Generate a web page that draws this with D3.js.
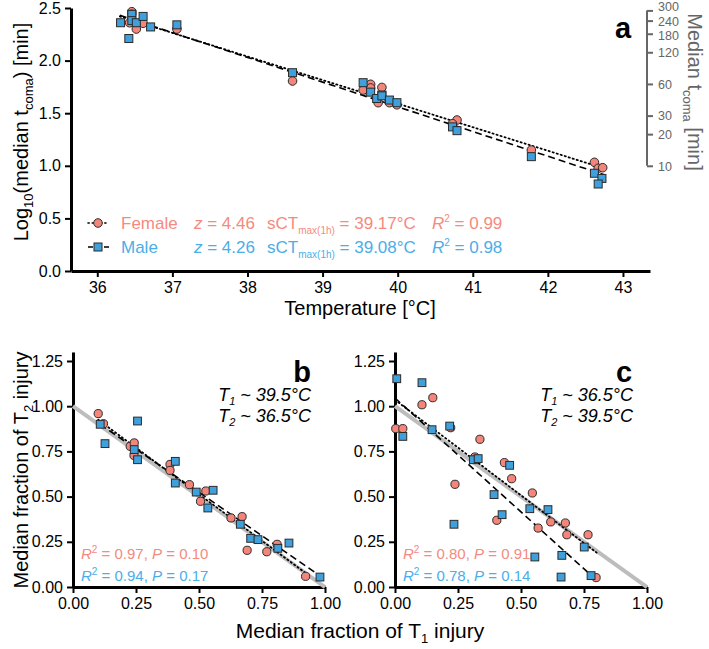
<!DOCTYPE html>
<html><head><meta charset="utf-8">
<script src="https://cdn.jsdelivr.net/npm/d3@7"></script>
<style>
body{margin:0;background:#fff}
svg text{font-family:"Liberation Sans",Arial,Helvetica,sans-serif}
</style>
</head><body>
<svg id="chart" width="709" height="649"></svg>
<script>
// ---------------- data: panel a ----------------
const aFemaleTemp = [36.46, 36.46, 36.43, 36.52, 36.61, 37.06, 38.60, 39.54, 39.64, 39.64, 39.79, 39.74, 39.89, 39.99, 40.79, 40.73, 41.78, 42.62, 42.67, 42.73];
const aFemaleLog  = [2.465, 2.44, 2.36, 2.30, 2.355, 2.30, 1.806, 1.72, 1.775, 1.74, 1.745, 1.60, 1.60, 1.58, 1.435, 1.40, 1.15, 1.033, 0.976, 0.982];
const aMaleTemp = [36.31, 36.46, 36.46, 36.42, 36.52, 36.61, 36.71, 37.06, 38.60, 39.54, 39.64, 39.79, 39.72, 39.79, 39.89, 39.99, 40.73, 40.79, 41.78, 42.62, 42.72, 42.67];
const aMaleLog  = [2.36, 2.44, 2.38, 2.21, 2.36, 2.42, 2.32, 2.34, 1.885, 1.79, 1.70, 1.673, 1.64, 1.665, 1.625, 1.60, 1.37, 1.334, 1.087, 0.929, 0.88, 0.827];
const aFemaleFitT = [36.30, 42.75];
const aFemaleFitY = [2.42, 0.975];
const aMaleFitT = [36.30, 42.75];
const aMaleFitY = [2.43, 0.915];
const aXTicks = [36, 37, 38, 39, 40, 41, 42, 43];
const aYTicks = [0, 0.5, 1.0, 1.5, 2.0, 2.5];
const aRightTicks = [10, 20, 30, 60, 120, 180, 240, 300];
const legendLabels = ["Female", "Male"];
const legendZ = ["4.46", "4.26"];
const legendSCT = ["39.17", "39.08"];
const legendR2 = ["0.99", "0.98"];

// ---------------- data: panel b ----------------
const bFemaleX = [0.100, 0.121, 0.227, 0.243, 0.242, 0.385, 0.385, 0.462, 0.527, 0.506, 0.627, 0.671, 0.691, 0.769, 0.810, 0.923];
const bFemaleY = [0.959, 0.903, 0.778, 0.797, 0.728, 0.678, 0.645, 0.566, 0.531, 0.474, 0.382, 0.389, 0.203, 0.195, 0.236, 0.059];
const bMaleX = [0.108, 0.127, 0.256, 0.243, 0.256, 0.406, 0.406, 0.489, 0.556, 0.535, 0.664, 0.705, 0.734, 0.813, 0.857, 0.980];
const bMaleY = [0.900, 0.793, 0.918, 0.760, 0.704, 0.695, 0.575, 0.525, 0.535, 0.437, 0.347, 0.269, 0.262, 0.214, 0.243, 0.055];
const bFemaleFitX = [0.100, 0.923], bFemaleFitY = [0.925, 0.077];
const bMaleFitX = [0.108, 0.980], bMaleFitY = [0.900, 0.062];
const bStats = ["0.97", "0.10", "0.94", "0.17"];
const bTemps = ["39.5", "36.5"];

// ---------------- data: panel c ----------------
const cFemaleX = [0.003, 0.031, 0.107, 0.150, 0.221, 0.238, 0.317, 0.337, 0.434, 0.463, 0.404, 0.545, 0.568, 0.618, 0.676, 0.682, 0.766, 0.798];
const cFemaleY = [0.876, 0.876, 1.008, 1.047, 0.881, 0.568, 0.719, 0.817, 0.688, 0.599, 0.369, 0.520, 0.326, 0.360, 0.354, 0.289, 0.289, 0.052];
const cMaleX = [0.007, 0.031, 0.107, 0.147, 0.217, 0.234, 0.311, 0.330, 0.393, 0.425, 0.455, 0.535, 0.555, 0.607, 0.662, 0.659, 0.751, 0.778];
const cMaleY = [1.152, 0.833, 1.130, 0.870, 0.890, 0.347, 0.704, 0.710, 0.511, 0.400, 0.673, 0.433, 0.166, 0.428, 0.175, 0.055, 0.221, 0.063];
const cFemaleFitX = [0.000, 0.800], cFemaleFitY = [1.035, 0.190];
const cMaleFitX = [0.000, 0.778], cMaleFitY = [1.045, 0.065];
const cStats = ["0.80", "0.91", "0.78", "0.14"];
const cTemps = ["36.5", "39.5"];

const fracTicks = [0, 0.25, 0.5, 0.75, 1.0];
const fracYTicks = [0, 0.25, 0.5, 0.75, 1.0, 1.25];
const identityX = [0, 1], identityY = [1, 0];

// ---------------- styles ----------------
const F_FILL = "#f4857a", M_FILL = "#3fa0dc";
const F_TXT = "#f58a80", M_TXT = "#4aaee8";
const STROKE = "#2b2b2b";
const GRAY_AX = "#666666";

const svg = d3.select("#chart");

function styleAxis(g, color, w, fs) {
  g.attr("font-family", null).attr("font-size", null);
  g.select(".domain").attr("stroke", color).attr("stroke-width", w);
  g.selectAll(".tick line").attr("stroke", color).attr("stroke-width", 2);
  g.selectAll(".tick text").attr("fill", color).style("font-size", fs + "px");
}
function zip(a, b) { return a.map((v, i) => [v, b[i]]); }

function drawPoints(g, x, y, xs, ys, shape, fill, r) {
  const pts = zip(xs, ys);
  if (shape === "circle") {
    g.selectAll(null).data(pts).enter().append("circle")
      .attr("cx", d => x(d[0])).attr("cy", d => y(d[1])).attr("r", r)
      .attr("fill", fill).attr("stroke", STROKE).attr("stroke-width", 1);
  } else {
    const s = r * 2;
    g.selectAll(null).data(pts).enter().append("rect")
      .attr("x", d => x(d[0]) - s / 2).attr("y", d => y(d[1]) - s / 2)
      .attr("width", s).attr("height", s)
      .attr("fill", fill).attr("stroke", STROKE).attr("stroke-width", 1);
  }
}
function drawLine(g, x, y, xs, ys, dash, w) {
  g.append("path").datum(zip(xs, ys))
    .attr("d", d3.line().x(d => x(d[0])).y(d => y(d[1])))
    .attr("fill", "none").attr("stroke", "#000").attr("stroke-width", w || 1.6)
    .attr("stroke-dasharray", dash).attr("stroke-linecap", dash === "1.2,3" ? "round" : "butt");
}

// ================= PANEL A =================
const ax = d3.scaleLinear().domain([35.65, 43.36]).range([71, 650]);
const ay = d3.scaleLinear().domain([0, 2.5]).range([271, 8]);
const ga = svg.append("g");

ga.append("g").attr("transform", "translate(0,271)")
  .call(d3.axisBottom(ax).tickValues(aXTicks).tickSize(6).tickSizeOuter(0).tickPadding(5).tickFormat(d3.format("d")))
  .call(g => styleAxis(g, "#000", 3, 16));
ga.append("g").attr("transform", "translate(71,0)")
  .call(d3.axisLeft(ay).tickValues(aYTicks).tickSize(6).tickSizeOuter(0).tickPadding(4).tickFormat(d3.format(".1f")))
  .call(g => styleAxis(g, "#000", 3, 16));
// right axis (minutes, log)
const ayMin = d3.scaleLog().domain([Math.pow(10, ay.domain()[0]), Math.pow(10, ay.domain()[1])]).range(ay.range());
const ra = ga.append("g").attr("transform", "translate(647,0)")
  .call(d3.axisRight(ayMin).tickValues(aRightTicks).tickSize(6).tickSizeOuter(0).tickPadding(5).tickFormat(d3.format("d")))
  .call(g => styleAxis(g, GRAY_AX, 2, 12.5));
ra.select(".domain").attr("d", `M0,${ayMin(10)}V${ayMin(300)}`);
ra.selectAll(".tick text").attr("dy", d => d === 300 ? "0.02em" : (d === 240 ? "0.38em" : (d === 180 ? "0.5em" : "0.34em")));

// fit lines
drawLine(ga, ax, ay, aFemaleFitT, aFemaleFitY, "1.2,3", 1.8);
drawLine(ga, ax, ay, aMaleFitT, aMaleFitY, "7,4", 1.6);
drawPoints(ga, ax, ay, aFemaleTemp, aFemaleLog, "circle", F_FILL, 4.3);
drawPoints(ga, ax, ay, aMaleTemp, aMaleLog, "square", M_FILL, 4.0);

// titles
ga.append("text").attr("x", 360).attr("y", 315).attr("text-anchor", "middle")
  .style("font-size", "20px").text("Temperature [°C]");
const yt = ga.append("text").attr("transform", "translate(28,132) rotate(-90)")
  .attr("text-anchor", "middle").style("font-size", "20px");
yt.append("tspan").text("Log");
yt.append("tspan").attr("dy", 5).style("font-size", "13px").text("10");
yt.append("tspan").attr("dy", -5).text("(median t");
yt.append("tspan").attr("dy", 5).style("font-size", "13px").text("coma");
yt.append("tspan").attr("dy", -5).text(") [min]");
const rt = ga.append("text").attr("transform", "translate(688,92) rotate(90)")
  .attr("text-anchor", "middle").attr("fill", GRAY_AX).style("font-size", "20px");
rt.append("tspan").text("Median t");
rt.append("tspan").attr("dy", 5).style("font-size", "13px").text("coma");
rt.append("tspan").attr("dy", -5).text(" [min]");
ga.append("text").attr("x", 623).attr("y", 38).attr("text-anchor", "middle")
  .style("font-size", "29px").style("font-weight", "bold").text("a");

// legend
[0, 1].forEach(i => {
  const cy = 223 + i * 24, base = cy + 6;
  const col = i === 0 ? F_TXT : M_TXT;
  ga.append("line").attr("x1", 88).attr("x2", 109).attr("y1", cy).attr("y2", cy)
    .attr("stroke", "#000").attr("stroke-width", 1.6)
    .attr("stroke-dasharray", i === 0 ? "1.2,3" : "5,3").attr("stroke-linecap", i === 0 ? "round" : "butt");
  if (i === 0) ga.append("circle").attr("cx", 98).attr("cy", cy).attr("r", 4.3).attr("fill", F_FILL).attr("stroke", STROKE);
  else ga.append("rect").attr("x", 94).attr("y", cy - 4).attr("width", 8).attr("height", 8).attr("fill", M_FILL).attr("stroke", STROKE);
  ga.append("text").attr("x", 121).attr("y", base).attr("fill", col).style("font-size", "17px").text(legendLabels[i]);
  const tz = ga.append("text").attr("x", 194).attr("y", base).attr("fill", col).style("font-size", "17px");
  tz.append("tspan").style("font-style", "italic").text("z");
  tz.append("tspan").text(" = " + legendZ[i]);
  const ts = ga.append("text").attr("x", 267).attr("y", base).attr("fill", col).style("font-size", "17px");
  ts.append("tspan").text("sCT");
  ts.append("tspan").attr("dy", 5).style("font-size", "10px").text("max(1h)");
  ts.append("tspan").attr("dy", -5).text(" = " + legendSCT[i] + "°C");
  const tr = ga.append("text").attr("x", 432).attr("y", base).attr("fill", col).style("font-size", "17px");
  tr.append("tspan").style("font-style", "italic").text("R");
  tr.append("tspan").attr("dy", -7).style("font-size", "10px").text("2");
  tr.append("tspan").attr("dy", 7).text(" = " + legendR2[i]);
});

// ================= PANELS B, C =================
function fracPanel(x0, letter, fX, fY, mX, mY, fFitX, fFitY, mFitX, mFitY, stats, temps) {
  const x = d3.scaleLinear().domain([0, 1]).range([x0, x0 + 252]);
  const y = d3.scaleLinear().domain([0, 1.3]).range([587, 587 - 1.3 * 180.8]);
  const g = svg.append("g");
  g.append("g").attr("transform", "translate(0,587)")
    .call(d3.axisBottom(x).tickValues(fracTicks).tickSize(6).tickSizeOuter(0).tickPadding(5).tickFormat(d3.format(".2f")))
    .call(a => styleAxis(a, "#000", 3, 16));
  g.append("g").attr("transform", `translate(${x0},0)`)
    .call(d3.axisLeft(y).tickValues(fracYTicks).tickSize(6).tickSizeOuter(0).tickPadding(4).tickFormat(d3.format(".2f")))
    .call(a => styleAxis(a, "#000", 3, 16));
  // identity
  g.append("path").datum(zip(identityX, identityY))
    .attr("d", d3.line().x(d => x(d[0])).y(d => y(d[1])))
    .attr("stroke", "#bdbdbd").attr("stroke-width", 4).attr("fill", "none");
  drawLine(g, x, y, fFitX, fFitY, "1.2,3", 1.8);
  drawLine(g, x, y, mFitX, mFitY, "7,4", 1.6);
  drawPoints(g, x, y, fX, fY, "circle", F_FILL, 4.1);
  drawPoints(g, x, y, mX, mY, "square", M_FILL, 3.9);
  g.append("text").attr("x", x0 + 229).attr("y", 382).attr("text-anchor", "middle")
    .style("font-size", "29px").style("font-weight", "bold").text(letter);
  [0, 1].forEach(i => {
    const t = g.append("text").attr("x", x0 + 238).attr("y", 401 + i * 21).attr("text-anchor", "end")
      .style("font-size", "18px").style("font-style", "italic");
    t.append("tspan").text("T");
    t.append("tspan").attr("dy", 4).style("font-size", "11px").text(String(i + 1));
    t.append("tspan").attr("dy", -4).text(" ~ " + temps[i] + "°C");
  });
  [0, 1].forEach(i => {
    const t = g.append("text").attr("x", x0 + 8).attr("y", 559 + i * 22)
      .attr("fill", i === 0 ? F_TXT : M_TXT).style("font-size", "15px");
    t.append("tspan").style("font-style", "italic").text("R");
    t.append("tspan").attr("dy", -6).style("font-size", "10px").text("2");
    t.append("tspan").attr("dy", 6).text(" = " + stats[i * 2] + ", ");
    t.append("tspan").style("font-style", "italic").text("P");
    t.append("tspan").text(" = " + stats[i * 2 + 1]);
  });
}
fracPanel(73, "b", bFemaleX, bFemaleY, bMaleX, bMaleY, bFemaleFitX, bFemaleFitY, bMaleFitX, bMaleFitY, bStats, bTemps);
fracPanel(395, "c", cFemaleX, cFemaleY, cMaleX, cMaleY, cFemaleFitX, cFemaleFitY, cMaleFitX, cMaleFitY, cStats, cTemps);

// shared titles
const by = svg.append("text").attr("transform", "translate(28,470) rotate(-90)")
  .attr("text-anchor", "middle").style("font-size", "20px");
by.append("tspan").text("Median fraction of T");
by.append("tspan").attr("dy", 5).style("font-size", "13px").text("2");
by.append("tspan").attr("dy", -5).text(" injury");
const bx = svg.append("text").attr("x", 360).attr("y", 638).attr("text-anchor", "middle").style("font-size", "21px");
bx.append("tspan").text("Median fraction of T");
bx.append("tspan").attr("dy", 5).style("font-size", "13px").text("1");
bx.append("tspan").attr("dy", -5).text(" injury");
</script>
</body></html>
